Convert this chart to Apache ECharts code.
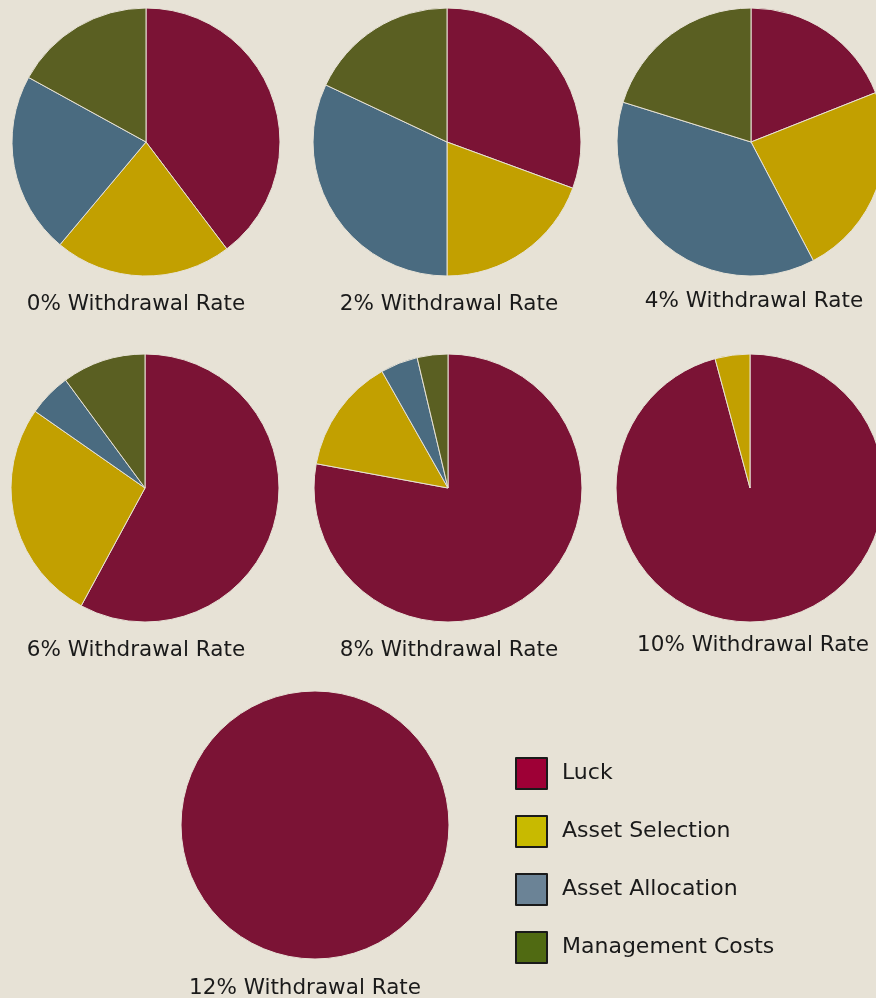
<!DOCTYPE html>
<html>
<head>
<meta charset="utf-8">
<script src="https://cdn.jsdelivr.net/npm/echarts@6/dist/echarts.min.js"></script>
<style>
html,body{margin:0;padding:0;background:#E7E2D6;}
#chart{width:876px;height:998px;}
</style>
</head>
<body>
<div id="chart"></div>
<script>
const categories = ['Luck', 'Asset Selection', 'Asset Allocation', 'Management Costs'];
const pieTitles = ['0% Withdrawal Rate', '2% Withdrawal Rate', '4% Withdrawal Rate',
  '6% Withdrawal Rate', '8% Withdrawal Rate', '10% Withdrawal Rate', '12% Withdrawal Rate'];
const luck            = [39.7, 30.6, 19.0, 57.9, 77.9, 95.8, 100];
const assetSelection  = [21.4, 19.4, 23.3, 26.8, 13.9, 4.2, 0];
const assetAllocation = [21.9, 32.0, 37.5, 5.2, 4.5, 0, 0];
const managementCosts = [17.0, 18.0, 20.2, 10.1, 3.7, 0, 0];

const sliceColors  = ['#7B1335', '#C2A000', '#4A6B80', '#5A5F22'];
const legendColors = ['#9E0036', '#C8BA00', '#6B8396', '#506A12'];

const centers = [[146,142],[447,142],[751,142],[145,488],[448,488],[750,488],[315,825]];
const titlePos = [[131,288],[444,288],[749,285],[131,634],[444,634],[748,629],[300,972]];
const R = 134;

const valueSets = [luck, assetSelection, assetAllocation, managementCosts];

const series = pieTitles.map((t, i) => ({
  type: 'pie',
  center: centers[i],
  radius: [0, R],
  startAngle: 90,
  clockwise: true,
  animation: false,
  silent: true,
  label: {show: false},
  labelLine: {show: false},
  itemStyle: {borderColor: '#E7E2D6', borderWidth: 1},
  data: categories.map((c, k) => ({
    name: c, value: valueSets[k][i], itemStyle: {color: sliceColors[k]}
  })).filter(d => d.value > 0)
}));

const titles = pieTitles.map((t, i) => ({
  text: t,
  left: titlePos[i][0],
  top: titlePos[i][1],
  textAlign: 'center',
  textStyle: {fontFamily: 'DejaVu Sans', fontSize: 21.5, fontWeight: 'normal', color: '#1a1a1a'}
}));

const chart = echarts.init(document.getElementById('chart'), null, {renderer: 'canvas'});
chart.setOption({
  backgroundColor: '#E7E2D6',
  animation: false,
  title: titles,
  legend: {
    orient: 'vertical',
    left: 510,
    top: 752,
    itemWidth: 31,
    itemHeight: 31,
    itemGap: 25,
    icon: 'rect',
    selectedMode: false,
    textStyle: {fontFamily: 'DejaVu Sans', fontSize: 22, color: '#1a1a1a', padding: [0, 0, 0, 10]},
    data: categories.map((c, k) => ({
      name: c,
      itemStyle: {color: legendColors[k], borderColor: '#1a1a1a', borderWidth: 2}
    }))
  },
  series: series
});
</script>
</body>
</html>
